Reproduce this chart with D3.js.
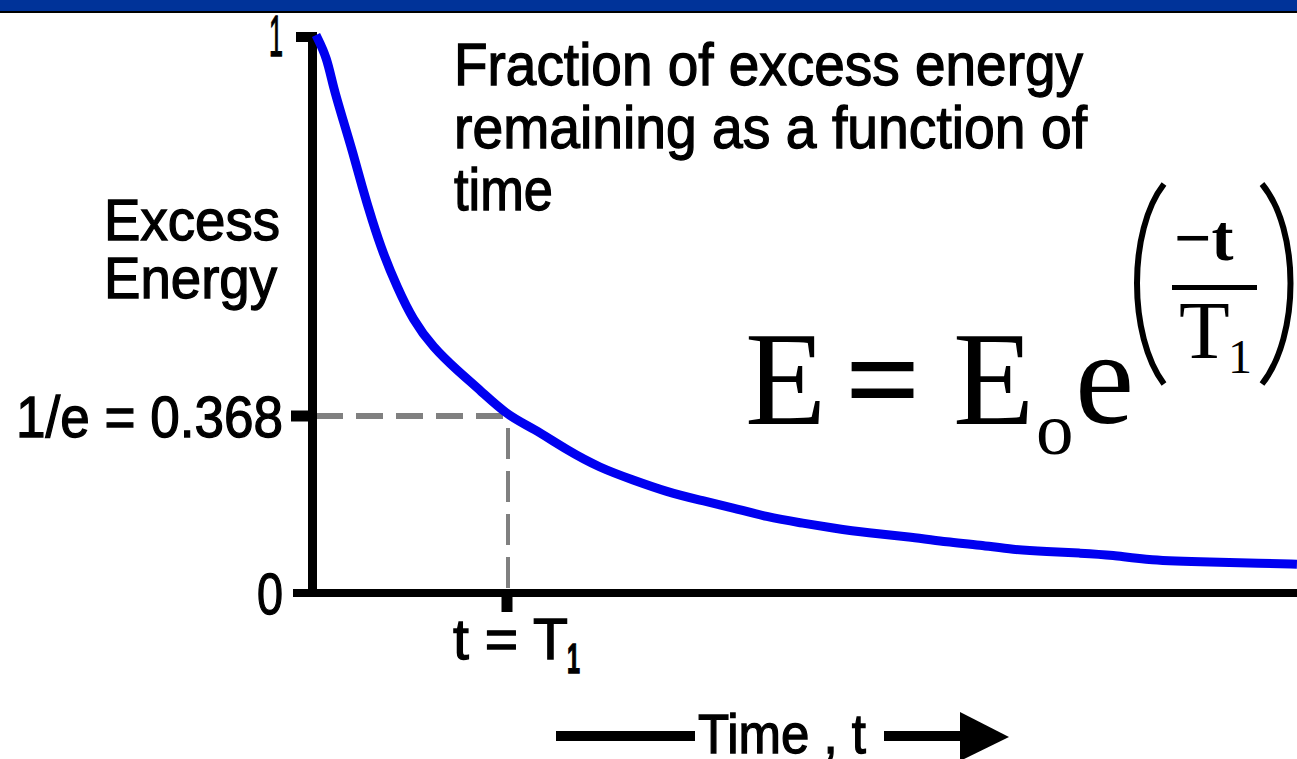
<!DOCTYPE html>
<html>
<head>
<meta charset="utf-8">
<script src="https://cdn.jsdelivr.net/npm/d3@7"></script>
<style>
  html, body { margin: 0; padding: 0; background: #fff; }
  svg { display: block; }
</style>
</head>
<body>
<script>
// Decay of excess energy over time, in units of T1
const times  = [0, 0.057, 0.089, 0.141, 0.193, 0.240, 0.292, 0.349, 0.422, 0.505, 0.609, 0.734, 0.854, 1.0,
                1.130, 1.307, 1.479, 1.651, 1.828, 2.0, 2.172, 2.349, 2.521, 2.693, 2.870, 3.109, 3.286, 3.458,
                3.630, 3.807, 3.979, 4.151, 4.328, 4.672, 4.917, 5.109];
const energy = [1.0, 0.963, 0.914, 0.859, 0.804, 0.748, 0.693, 0.638, 0.582, 0.527, 0.482, 0.444, 0.411, 0.368,
                0.343, 0.297, 0.260, 0.235, 0.210, 0.193, 0.177, 0.158, 0.146, 0.135, 0.125, 0.116, 0.106, 0.100,
                0.090, 0.086, 0.083, 0.079, 0.068, 0.064, 0.062, 0.060];

const yTickValues = [0, 0.368, 1];
const yTickLabels = ["0", "1/e = 0.368", "1"];
const xTickValue = 1;
const xTickLabel = "t = T";
const xTickSub = "1";
const titleLines = ["Fraction of excess energy", "remaining as a function of", "time"];
const yTitleLines = ["Excess", "Energy"];
const xTitle = "Time , t";

const W = 1297, H = 759;
const sans = "'Liberation Sans', Arial, sans-serif";
const serif = "'Liberation Serif', 'Times New Roman', serif";

const svg = d3.select("body").append("svg").attr("width", W).attr("height", H);

// header band
svg.append("rect").attr("x", 0).attr("y", 0).attr("width", W).attr("height", 11).attr("fill", "#003399");
svg.append("rect").attr("x", 0).attr("y", 11).attr("width", W).attr("height", 2).attr("fill", "#000");

// scales: y is piecewise so the 1/e reference sits at its marked height
const x = d3.scaleLinear().domain([0, 5.11]).range([316, 316 + 5.11 * 192]);
const y = d3.scaleLinear().domain([0, 0.368, 1]).range([593, 416, 35]);

// heavier strokes for the sans labels
function sansText(sel, size) {
  return sel.attr("font-family", sans).attr("font-size", size)
    .attr("fill", "#000").attr("stroke", "#000").attr("stroke-width", 1.3);
}

// dashed reference lines at 1/e and t = T1
svg.append("line")
  .attr("x1", x(0)).attr("x2", x(xTickValue))
  .attr("y1", y(0.368)).attr("y2", y(0.368))
  .attr("stroke", "#808080").attr("stroke-width", 6).attr("stroke-dasharray", "27,13");
svg.append("line")
  .attr("x1", x(xTickValue)).attr("x2", x(xTickValue))
  .attr("y1", y(0) - 5).attr("y2", y(0.368))
  .attr("stroke", "#808080").attr("stroke-width", 4).attr("stroke-dasharray", "31,12");

// axes
svg.append("line").attr("x1", 312.5).attr("x2", 312.5).attr("y1", y(1) - 3).attr("y2", y(0) + 4)
  .attr("stroke", "#000").attr("stroke-width", 9);
svg.append("line").attr("x1", 293).attr("x2", W).attr("y1", y(0)).attr("y2", y(0))
  .attr("stroke", "#000").attr("stroke-width", 8);

// y ticks
svg.append("line").attr("x1", 296).attr("x2", 317).attr("y1", y(1) + 2).attr("y2", y(1) + 2)
  .attr("stroke", "#000").attr("stroke-width", 10);
svg.append("line").attr("x1", 291).attr("x2", 309).attr("y1", y(0.368)).attr("y2", y(0.368))
  .attr("stroke", "#000").attr("stroke-width", 11);

// x tick
svg.append("line").attr("x1", x(xTickValue) - 1).attr("x2", x(xTickValue) - 1)
  .attr("y1", y(0) + 3).attr("y2", y(0) + 19)
  .attr("stroke", "#000").attr("stroke-width", 11);

// y tick labels
const yLabelLen = { "0": 26, "1/e = 0.368": 267, "1": 14 };
yTickValues.forEach((v, i) => {
  sansText(svg.append("text"), 58)
    .attr("x", 283).attr("y", y(v) + 21)
    .attr("text-anchor", "end")
    .attr("textLength", yLabelLen[yTickLabels[i]]).attr("lengthAdjust", "spacingAndGlyphs")
    .text(yTickLabels[i]);
});

// x tick label t = T1
sansText(svg.append("text"), 58)
  .attr("x", x(xTickValue) - 55).attr("y", 659)
  .attr("textLength", 115).attr("lengthAdjust", "spacingAndGlyphs")
  .text(xTickLabel);
sansText(svg.append("text"), 42)
  .attr("x", x(xTickValue) + 59).attr("y", 673)
  .attr("font-weight", "bold")
  .attr("textLength", 13).attr("lengthAdjust", "spacingAndGlyphs")
  .text(xTickSub);

// y axis title
const yTitleLen = [176, 173];
yTitleLines.forEach((s, i) => {
  sansText(svg.append("text"), 58)
    .attr("x", 104).attr("y", 240 + i * 58)
    .attr("textLength", yTitleLen[i]).attr("lengthAdjust", "spacingAndGlyphs")
    .text(s);
});

// chart title
const titleLen = [629, 633, 99];
titleLines.forEach((s, i) => {
  sansText(svg.append("text"), 59)
    .attr("x", 454).attr("y", 85 + i * 62.5)
    .attr("textLength", titleLen[i]).attr("lengthAdjust", "spacingAndGlyphs")
    .text(s);
});

// x axis title with arrows
svg.append("line").attr("x1", 556).attr("x2", 695).attr("y1", 736).attr("y2", 736)
  .attr("stroke", "#000").attr("stroke-width", 10);
sansText(svg.append("text"), 55)
  .attr("x", 698).attr("y", 753)
  .attr("textLength", 168).attr("lengthAdjust", "spacingAndGlyphs")
  .text(xTitle);
svg.append("line").attr("x1", 884).attr("x2", 962).attr("y1", 736).attr("y2", 736)
  .attr("stroke", "#000").attr("stroke-width", 10);
svg.append("path").attr("d", "M960,712 L1009,737 L960,761 Z").attr("fill", "#000");

// the decay curve
const line = d3.line().x((d, i) => x(times[i])).y(d => y(d)).curve(d3.curveBasis);
svg.append("path")
  .datum(energy)
  .attr("d", line)
  .attr("fill", "none")
  .attr("stroke", "#0000f0")
  .attr("stroke-width", 9)
  .attr("stroke-linejoin", "round");

// equation E = Eo e^(-t/T1)
const eq = svg.append("g").attr("fill", "#000").attr("font-family", serif);
eq.append("text").attr("x", 745).attr("y", 424).attr("font-size", 133).text("E");
eq.append("text").attr("x", 883).attr("y", 424).attr("font-size", 133).attr("text-anchor", "middle")
  .attr("font-weight", "bold").text("=");
eq.append("text").attr("x", 953).attr("y", 424).attr("font-size", 133).text("E");
eq.append("text").attr("x", 1036).attr("y", 454).attr("font-size", 75).text("o");
eq.append("text").attr("x", 1075).attr("y", 423).attr("font-size", 133).text("e");
eq.append("path").attr("d", "M1164,184 C1128,230 1128,336 1164,384")
  .attr("fill", "none").attr("stroke", "#000").attr("stroke-width", 6);
eq.append("path").attr("d", "M1262,184 C1300,230 1300,336 1262,384")
  .attr("fill", "none").attr("stroke", "#000").attr("stroke-width", 6);
eq.append("text").attr("x", 1174).attr("y", 260).attr("font-size", 66).attr("font-weight", "bold").text("\u2212t");
eq.append("rect").attr("x", 1172).attr("y", 285).attr("width", 85).attr("height", 5);
eq.append("text").attr("x", 1179).attr("y", 358).attr("font-size", 83).text("T");
eq.append("text").attr("x", 1228).attr("y", 373).attr("font-size", 48).text("1");
</script>
</body>
</html>
